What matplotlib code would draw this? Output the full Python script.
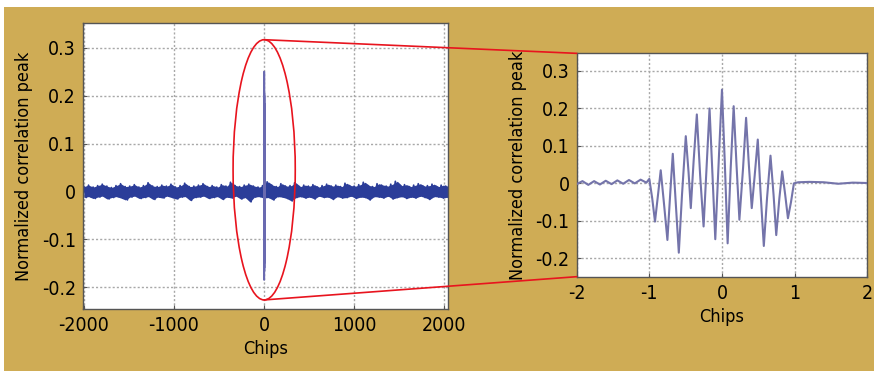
import numpy as np
import matplotlib.pyplot as plt
from matplotlib.patches import Ellipse, Rectangle, ConnectionPatch

plt.rcParams['font.family'] = ['DejaVu Sans']
plt.rcParams['font.stretch'] = 'condensed'
plt.rcParams['axes.unicode_minus'] = False

# Left panel: noise band envelope over -2000..2040 chips
noise_hi = [0.010, 0.013, 0.009, 0.012, 0.015, 0.011, 0.008, 0.012, 0.016, 0.010,
            0.011, 0.014, 0.009, 0.012, 0.018, 0.011, 0.010, 0.013, 0.011, 0.015,
            0.009, 0.012, 0.017, 0.010, 0.011, 0.013, 0.016, 0.010, 0.012, 0.009,
            0.014, 0.011, 0.019, 0.012, 0.010, 0.013, 0.015, 0.011, 0.009, 0.012,
            0.020, 0.013, 0.010, 0.016, 0.011, 0.012, 0.018, 0.010, 0.013, 0.011,
            0.014, 0.009, 0.012, 0.015, 0.011, 0.013, 0.010, 0.017, 0.012, 0.011,
            0.014, 0.019, 0.012, 0.010, 0.016, 0.013, 0.011, 0.015, 0.021, 0.012,
            0.014, 0.010, 0.013, 0.016, 0.011, 0.012, 0.015, 0.010, 0.013, 0.011]
noise_lo = [-0.013, -0.011, -0.015, -0.012, -0.010, -0.016, -0.013, -0.011, -0.014, -0.018,
            -0.012, -0.010, -0.015, -0.013, -0.011, -0.017, -0.012, -0.014, -0.010, -0.013,
            -0.016, -0.012, -0.011, -0.019, -0.013, -0.012, -0.010, -0.015, -0.013, -0.011,
            -0.017, -0.012, -0.014, -0.010, -0.016, -0.013, -0.022, -0.012, -0.011, -0.014,
            -0.013, -0.018, -0.011, -0.012, -0.015, -0.020, -0.013, -0.011, -0.014, -0.012,
            -0.016, -0.010, -0.013, -0.012, -0.017, -0.011, -0.014, -0.013, -0.010, -0.015,
            -0.012, -0.013, -0.018, -0.011, -0.012, -0.014, -0.010, -0.016, -0.013, -0.011,
            -0.015, -0.012, -0.014, -0.010, -0.013, -0.017, -0.011, -0.012, -0.014, -0.012]

# Right panel: correlation peak around 0 chips
peak_x = [-2.0, -1.92, -1.84, -1.76, -1.68, -1.60, -1.52, -1.44, -1.36, -1.28, -1.20, -1.12, -1.04, -1.0,
          -0.96, -0.922, -0.88, -0.843, -0.80, -0.751, -0.71, -0.677, -0.64, -0.594, -0.55, -0.498,
          -0.46, -0.429, -0.39, -0.346, -0.30, -0.253, -0.21, -0.171, -0.13, -0.092, -0.04, 0.0,
          0.04, 0.078, 0.12, 0.161, 0.20, 0.240, 0.29, 0.332, 0.37, 0.410, 0.45, 0.493, 0.53, 0.576,
          0.62, 0.668, 0.71, 0.747, 0.79, 0.829, 0.87, 0.908, 0.95, 0.99, 1.05, 1.2, 1.4, 1.6, 1.8, 2.0]
peak_y = [-0.002, 0.006, -0.004, 0.006, -0.003, 0.007, -0.002, 0.008, -0.001, 0.009, 0.000, 0.010, 0.002, 0.012,
          -0.04, -0.102, -0.03, 0.035, -0.05, -0.151, -0.02, 0.079, -0.04, -0.185, -0.03, 0.126,
          0.03, -0.066, 0.06, 0.184, 0.02, -0.115, 0.05, 0.200, 0.02, -0.149, 0.08, 0.250,
          0.05, -0.160, 0.04, 0.206, 0.05, -0.097, 0.04, 0.175, 0.05, -0.066, 0.02, 0.117, -0.02, -0.167,
          -0.04, 0.074, -0.03, -0.138, -0.04, 0.032, -0.03, -0.093, -0.05, 0.000, 0.003, 0.004, 0.003, -0.001, 0.002, 0.001]

left_xticks = [-2000, -1000, 0, 1000, 2000]
right_xticks = [-2, -1, 0, 1, 2]
yticks = [-0.2, -0.1, 0, 0.1, 0.2, 0.3]
ytick_labels = ['-0.2', '-0.1', '0', '0.1', '0.2', '0.3']
ylabel = 'Normalized correlation peak'
xlabel = 'Chips'

gold = '#CFAC55'
fs_tick = 14
fs_label = 13

fig = plt.figure(figsize=(8.74, 3.71), dpi=100)
fig.patch.set_facecolor('white')
fig.patches.append(Rectangle((4 / 874, 0), 1, 1 - 7 / 371, transform=fig.transFigure,
                             facecolor=gold, edgecolor='none', zorder=-10))

ax1 = fig.add_axes([0.095, 0.1671, 0.4176, 0.771])
ax2 = fig.add_axes([0.6598, 0.2542, 0.3325, 0.602])

# noise band: ragged envelope fill plus a zigzag through it
n = len(noise_hi)
band_x = np.linspace(-2000, 2040, n)
ax1.fill_between(band_x, noise_lo, noise_hi, color='#2B3D99', lw=0, zorder=2)
zz_x = np.linspace(-2000, 2040, 2 * n)
zz_y = np.empty(2 * n)
zz_y[0::2] = noise_hi
zz_y[1::2] = noise_lo
ax1.plot(zz_x, zz_y, color='#2B3D99', lw=1.2, zorder=2)
ax1.plot(peak_x, peak_y, color='#6A6AB0', lw=1.4, zorder=3)

ax2.plot(peak_x, peak_y, color='#7474AA', lw=1.5, zorder=3)

for ax, xt, xl in [(ax1, left_xticks, (-2010, 2040)), (ax2, right_xticks, (-2, 2))]:
    ax.set_facecolor('white')
    ax.set_xticks(xt)
    ax.set_yticks(yticks)
    ax.set_yticklabels(ytick_labels)
    ax.set_xlim(*xl)
    ax.grid(True, color='#a8a8a8', linestyle=(0, (1.5, 1.5)), lw=1)
    ax.tick_params(direction='in', length=3, labelsize=fs_tick, color='#555555', pad=5)
    for s in ax.spines.values():
        s.set_color('#555555')
        s.set_linewidth(1)
    ax.set_xlabel(xlabel, fontsize=fs_label)
    ax.set_ylabel(ylabel, fontsize=fs_label)

ax1.set_ylim(-0.246, 0.352)
ax2.set_ylim(-0.249, 0.347)
ax1.yaxis.set_label_coords(-0.137, 0.5)
ax1.xaxis.set_label_coords(0.5, -0.108)
ax2.yaxis.set_label_coords(-0.171, 0.5)
ax2.xaxis.set_label_coords(0.5, -0.14)

# red zoom marker
ax1.add_patch(Ellipse((0, 0.045), 690, 0.544, fill=False, edgecolor='#E8141E', lw=1.2, zorder=5))
for ya, yb in [(0.317, 1), (-0.227, 0)]:
    con = ConnectionPatch(xyA=(0, ya), coordsA=ax1.transData,
                          xyB=(0, yb), coordsB=ax2.transAxes,
                          color='#E8141E', lw=1.2, zorder=6)
    fig.add_artist(con)

plt.savefig('out.png', dpi=100)
